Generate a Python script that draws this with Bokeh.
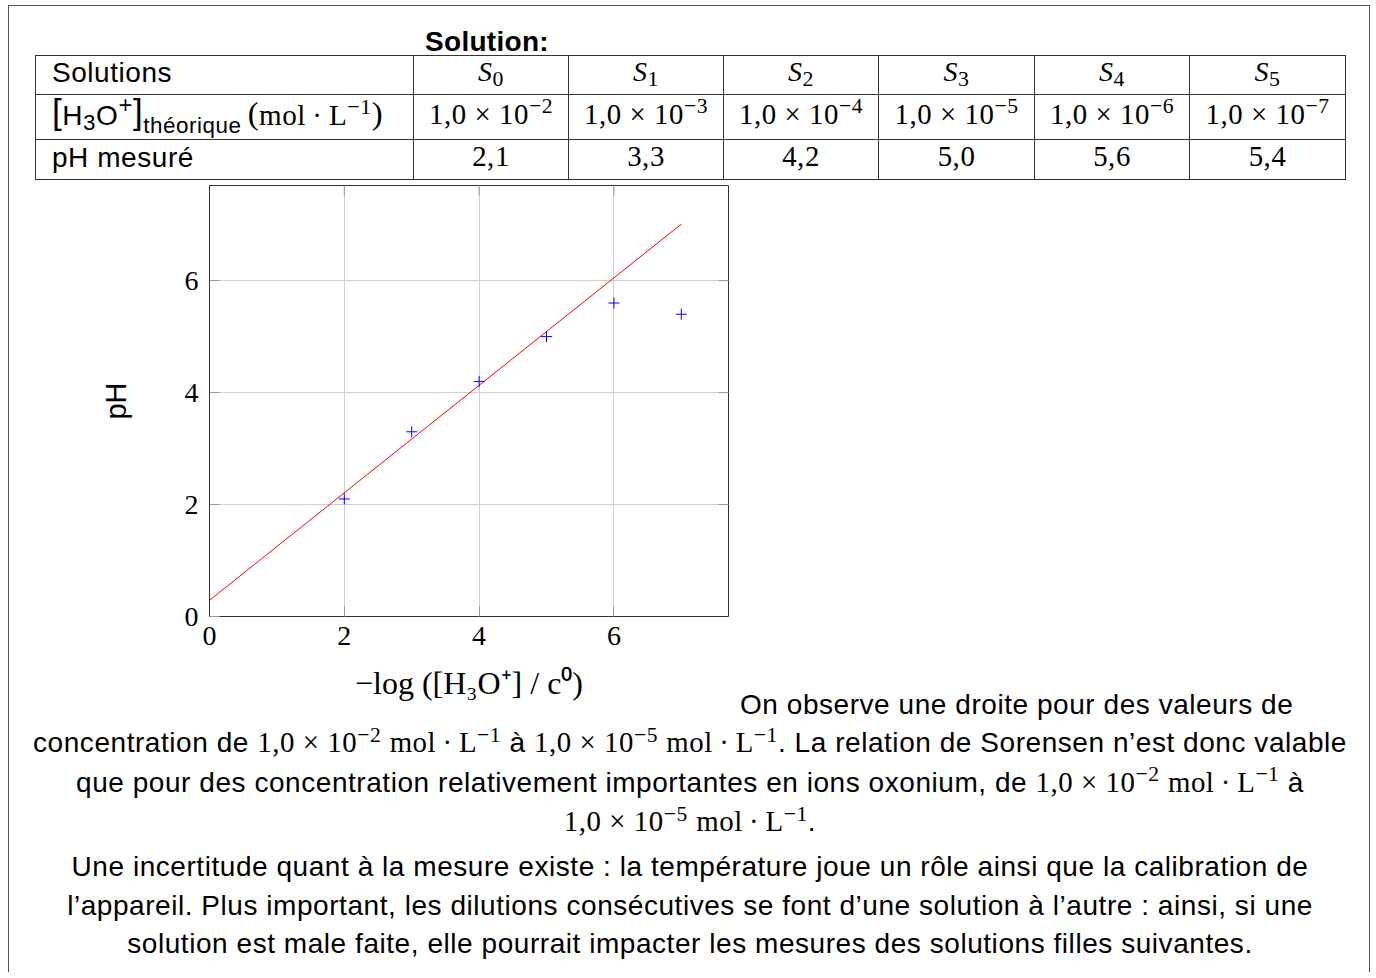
from math import pi
from bokeh.plotting import figure
from bokeh.models import Div, FixedTicker, Range1d
from bokeh.layouts import column, row
from bokeh.embed import file_html
from bokeh.resources import INLINE

# ---------------- data ----------------
solution_letters = ["S", "S", "S", "S", "S", "S"]
solution_indices = ["0", "1", "2", "3", "4", "5"]
conc_mantissa = ["1,0", "1,0", "1,0", "1,0", "1,0", "1,0"]
conc_exponent = ["−2", "−3", "−4", "−5", "−6", "−7"]
ph_labels = ["2,1", "3,3", "4,2", "5,0", "5,6", "5,4"]
neg_log_conc = [2, 3, 4, 5, 6, 7]
ph_measured = [2.1, 3.3, 4.2, 5.0, 5.6, 5.4]
fit_x = [0, 7]
fit_y = [0.29, 7.01]
x_ticks = [0, 2, 4, 6]
y_ticks = [0, 2, 4, 6]
X_MAX = 7.7
Y_MAX = 7.7

SANS = "'Liberation Sans', Arial, sans-serif"
SERIF = "'Liberation Serif', 'Times New Roman', serif"
FS = 28
LS = "0.55px"


def sup(t, fs=0.75):
    return f'<span style="position:relative;top:-0.48em;font-size:{fs}em;line-height:0;">{t}</span>'


def sub(t, dy=0.28, fs=0.75):
    return f'<span style="position:relative;top:{dy}em;font-size:{fs}em;line-height:0;">{t}</span>'


def rm(t, extra=""):
    return f'<span style="font-family:{SERIF};{extra}">{t}</span>'


def big(t, fs=1.25):
    return f'<span style="font-size:{fs}em;line-height:0;position:relative;top:-0.02em">{t}</span>'


def sci(m, e, sep=" × "):
    return rm(f"{m}{sep}10{sup(e)}", "font-size:1.03em;")


DOT = "&#8201;·&#8201;"
unit = rm("mol" + DOT + "L" + sup("−1"), "font-size:1.03em;")

# ---------------- table ----------------
cell = ("border:1px solid #333;padding:0 0 6px 0;text-align:center;vertical-align:middle;"
        "white-space:nowrap;line-height:30px;")
first = ("border:1px solid #333;padding:0 0 4px 16px;text-align:left;vertical-align:middle;"
         "white-space:nowrap;line-height:30px;")
cols = [378, 155, 155, 155, 156, 155, 156]
colgroup = "".join(f'<col style="width:{w}px">' for w in cols)

r1 = f'<td style="{first}">Solutions</td>' + "".join(
    f'<td style="{cell}">{rm("<i>" + l + "</i>" + sub(i, 0.25, 0.78))}</td>'
    for l, i in zip(solution_letters, solution_indices))
r2 = (f'<td style="{first}">{big("[")}H{sub("3", 0.25, 0.8)}O{sup("+", 0.85)}{big("]")}'
      f'{sub("théorique", 0.38, 0.8)}&#8201;'
      f'{rm(big("(", 1.12) + "mol" + DOT + "L" + sup("−1") + big(")", 1.12), "font-size:1.04em;")}</td>'
      ) + "".join(
    f'<td style="{cell}">{rm(m + " × 10" + sup(e), "font-size:1.03em;")}</td>'
    for m, e in zip(conc_mantissa, conc_exponent))
r3 = f'<td style="{first}">pH mesuré</td>' + "".join(
    f'<td style="{cell}">{rm(v, "font-size:1.03em;")}</td>' for v in ph_labels)

table_html = f'''
<div style="font-family:{SANS};font-size:{FS}px;letter-spacing:{LS};color:#000;width:1360px;">
  <div style="height:49px;box-sizing:border-box;padding-top:22px;width:956px;text-align:center;font-weight:bold;line-height:27px;letter-spacing:0.3px;">Solution:</div>
  <table style="margin:0 0 0 26px;border-collapse:collapse;table-layout:fixed;width:1310px;">
    <colgroup>{colgroup}</colgroup>
    <tr style="height:39px">{r1}</tr>
    <tr style="height:45px">{r2}</tr>
    <tr style="height:40px">{r3}</tr>
  </table>
</div>'''
table_div = Div(text=table_html, width=1360, height=174, margin=0, styles={"overflow": "visible"})

# ---------------- chart ----------------
p = figure(frame_width=519, frame_height=431,
           x_range=Range1d(0, X_MAX), y_range=Range1d(0, Y_MAX),
           output_backend="svg", toolbar_location=None,
           min_border_left=200, min_border_right=2, min_border_top=5, min_border_bottom=106,
           background_fill_color="white", border_fill_alpha=0)
p.outline_line_color = "#333"
p.outline_line_width = 1

for g, t in ((p.xgrid[0], x_ticks), (p.ygrid[0], y_ticks)):
    g.ticker = FixedTicker(ticks=t)
    g.grid_line_color = "#d0d0d0"
    g.grid_line_width = 1

for ax, t in ((p.xaxis[0], x_ticks), (p.yaxis[0], y_ticks)):
    ax.ticker = FixedTicker(ticks=t)
    ax.major_tick_in = 10
    ax.major_tick_out = 0
    ax.minor_tick_in = 0
    ax.minor_tick_out = 0
    ax.major_tick_line_color = "#999999"
    ax.axis_line_color = "#333"
    ax.major_label_text_font = "Liberation Serif"
    ax.major_label_text_font_size = "28px"
    ax.major_label_text_color = "black"
    ax.axis_label_text_color = "black"
    ax.axis_label_text_font_style = "normal"

p.xaxis[0].major_label_standoff = 10
p.yaxis[0].major_label_standoff = 11
p.yaxis[0].axis_label = "pH"
p.yaxis[0].axis_label_text_font = "Liberation Sans"
p.yaxis[0].axis_label_text_font_size = "29px"
p.yaxis[0].axis_label_standoff = 50
p.xaxis[0].axis_label = "−log ([H₃O⁺] / c⁰)"
p.xaxis[0].axis_label_text_font = "Liberation Serif"
p.xaxis[0].axis_label_text_font_size = "32px"
p.xaxis[0].axis_label_standoff = 17

# mirrored inner ticks on the top and right edges (half of each dash is clipped by the frame)
p.scatter(x_ticks, [Y_MAX] * len(x_ticks), marker="dash", angle=pi / 2, size=20,
          line_color="#999999", line_width=1)
p.scatter([X_MAX] * len(y_ticks), y_ticks, marker="dash", size=20,
          line_color="#999999", line_width=1)

p.line(fit_x, fit_y, line_color="red", line_width=1)
p.scatter(neg_log_conc, ph_measured, marker="cross", size=11, line_color="blue", line_width=1)

# ---------------- text ----------------
line1 = "On observe une droite pour des valeurs de"
text_div = Div(text=f'<div style="font-family:{SANS};font-size:{FS}px;letter-spacing:{LS};color:#000;line-height:32px;'
                    f'padding:509px 0 0 10px;white-space:nowrap;">{line1}</div>',
               width=639, height=542, margin=0, styles={"overflow": "visible"})

L2 = (f"concentration de {sci(conc_mantissa[0], conc_exponent[0])} {unit} à "
      f"{sci(conc_mantissa[3], conc_exponent[3])} {unit}. La relation de Sorensen n’est donc valable")
L3 = (f"que pour des concentration relativement importantes en ions oxonium, de "
      f"{sci(conc_mantissa[0], conc_exponent[0])} {unit} à")
L4 = f"{sci(conc_mantissa[3], conc_exponent[3])} {unit}."
L5 = "Une incertitude quant à la mesure existe : la température joue un rôle ainsi que la calibration de"
L6 = "l’appareil. Plus important, les dilutions consécutives se font d’une solution à l’autre : ainsi, si une"
L7 = "solution est male faite, elle pourrait impacter les mesures des solutions filles suivantes."

para_html = f'''
<div style="font-family:{SANS};font-size:{FS}px;letter-spacing:{LS};color:#000;line-height:38.5px;text-align:center;white-space:nowrap;width:1360px;box-sizing:border-box;padding-left:2px;position:relative;top:1px;">
  <div>{L2}<br>{L3}<br>{L4}</div>
  <div style="margin-top:6.5px">{L5}<br>{L6}<br>{L7}</div>
</div>'''
para_div = Div(text=para_html, width=1360, height=250, margin=0, styles={"overflow": "visible"})

root = column(table_div, row(p, text_div), para_div,
              styles={"border-top": "1px solid #555", "border-left": "1px solid #555",
                      "border-right": "1px solid #555", "margin-left": "8px", "margin-top": "5px"})

open("out.html", "w").write(file_html(root, INLINE))
